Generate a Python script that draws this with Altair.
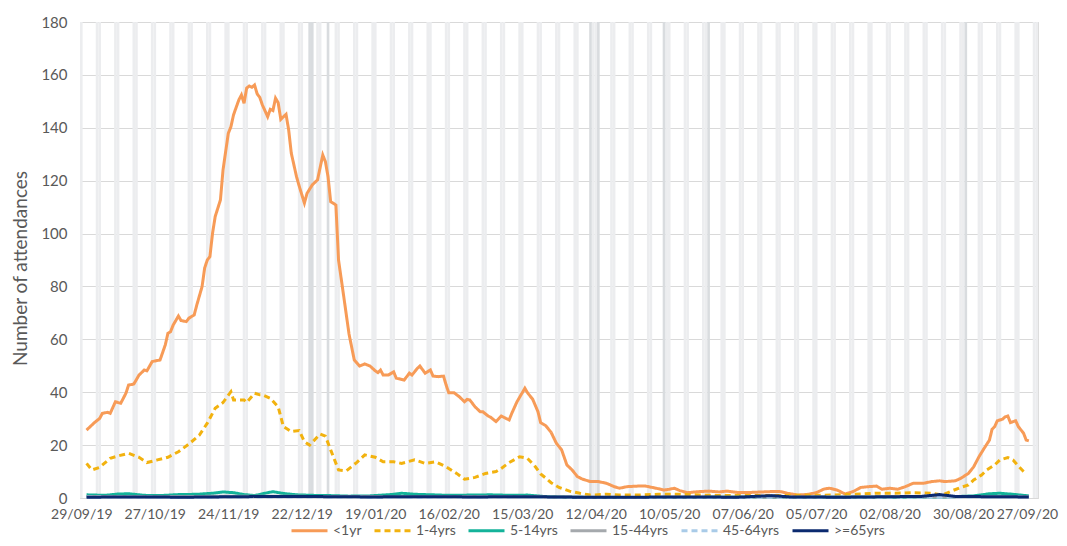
import json
import altair as alt
import pandas as pd

START = "2019-09-29"
series_names = ["<1yr", "1-4yrs", "5-14yrs", "15-44yrs", "45-64yrs", ">=65yrs"]
series_colors = ["#F79B57", "#F2B20F", "#14B39A", "#A5A9AD", "#A9CBE8", "#0B2A6F"]
series_dash = [[1, 0], [6, 4], [1, 0], [1, 0], [6, 4], [1, 0]]

tick_labels = ["29/09/19", "27/10/19", "24/11/19", "22/12/19", "19/01/20", "16/02/20",
               "15/03/20", "12/04/20", "10/05/20", "07/06/20", "05/07/20", "02/08/20",
               "30/08/20", "27/09/20"]
bank_holidays = ["2019-12-25", "2019-12-26", "2020-01-01", "2020-04-10", "2020-04-13",
                 "2020-05-08", "2020-05-25", "2020-08-31"]

# day offsets from START and values
lt1_days = [2, 5, 7, 8, 10, 11, 13, 15, 17, 18, 20, 22, 24, 25, 27, 30, 32, 33, 34, 35, 37, 38, 40, 41, 43, 44,
            46, 47, 48, 49, 50, 51, 53, 54, 56, 57, 58, 60, 61, 62, 63, 64, 65, 66, 67, 68, 69, 71, 72, 73, 74,
            75, 76, 78, 79, 80, 82, 83, 85, 86, 88, 90, 92, 93, 94, 95, 97, 98, 100, 102, 104, 106, 108, 110,
            112, 113, 114, 115, 117, 119, 120, 123, 125, 126, 128, 129, 131, 133, 134, 136, 138, 139, 140, 142,
            144, 146, 147, 148, 150, 152, 153, 155, 156, 158, 160, 161, 163, 164, 166, 169, 170, 172, 174, 175,
            177, 179, 181, 183, 185, 187, 189, 191, 194, 197, 200, 203, 205, 208, 212, 215, 219, 222, 224, 226,
            228, 231, 235, 239, 243, 246, 250, 255, 262, 266, 269, 273, 277, 280, 283, 285, 288, 291, 294, 297,
            300, 303, 305, 308, 311, 314, 317, 321, 324, 327, 329, 333, 335, 338, 340, 342, 344, 346, 347, 348,
            349, 351, 352, 353, 354, 356, 357, 359, 360, 361]
lt1_vals = [25.7, 28.5, 30.1, 32.0, 32.4, 32.0, 36.4, 35.8, 39.6, 42.7, 43.1, 46.5, 48.4, 48.1, 51.6, 52.2, 57.9,
            62.3, 62.9, 65.4, 68.8, 67.1, 66.7, 68.0, 69.2, 73.0, 79.9, 87.0, 90.0, 91.3, 100.1, 106.4, 112.7,
            124.1, 137.9, 140.4, 144.9, 150.5, 152.4, 149.3, 155.0, 155.8, 155.3, 156.2, 152.8, 151.5, 148.6,
            144.2, 147.0, 146.5, 151.2, 149.5, 143.2, 145.1, 139.2, 130.4, 121.5, 118.0, 111.5, 115.2, 118.4,
            120.3, 129.7, 127.2, 121.5, 112.1, 110.8, 90.0, 76.1, 62.0, 52.2, 49.9, 50.7, 49.9, 48.1, 47.4, 48.4,
            46.5, 46.5, 47.7, 45.3, 44.6, 47.2, 46.5, 49.0, 49.9, 47.2, 48.4, 46.1, 45.9, 46.1, 42.7, 39.8, 39.8,
            38.3, 36.4, 37.3, 37.1, 34.5, 32.6, 32.6, 31.0, 30.5, 28.9, 31.0, 30.5, 29.5, 32.0, 36.4, 41.5, 39.8,
            37.3, 32.6, 28.5, 27.3, 24.8, 20.7, 18.2, 12.5, 10.6, 8.1, 7.1, 6.2, 6.2, 5.6, 4.3, 3.7, 4.3, 4.5,
            4.5, 3.7, 3.0, 3.3, 3.7, 2.8, 2.0, 2.4, 2.6, 2.3, 2.6, 2.1, 2.1, 2.4, 2.5, 1.8, 1.1, 1.4, 2.0, 3.4,
            3.7, 3.0, 1.5, 2.4, 4.0, 4.3, 4.5, 3.3, 3.7, 3.3, 4.3, 5.6, 5.6, 6.2, 6.5, 6.2, 6.5, 7.4, 9.3, 11.8,
            15.6, 18.8, 21.9, 26.0, 27.0, 29.2, 29.8, 30.7, 31.0, 28.5, 29.2, 27.0, 24.5, 21.9, 21.6]

y14_days = [2, 4, 7, 11, 14, 18, 22, 25, 29, 33, 37, 41, 45, 48, 51, 54, 57, 58, 62, 63, 66, 68, 69, 72, 75, 77,
            80, 83, 85, 87, 91, 93, 95, 98, 101, 105, 108, 112, 115, 119, 122, 127, 131, 135, 139, 143, 146, 150,
            154, 158, 160, 163, 167, 170, 173, 175, 177, 179, 182, 186, 190, 194, 200, 205, 212, 220, 228, 240,
            255, 270, 286, 297, 303, 310, 317, 324, 328, 331, 335, 338, 340, 343, 345, 348, 350, 353, 355, 357,
            359, 360]
y14_vals = [13.1, 10.6, 11.6, 15.0, 15.9, 16.9, 15.4, 13.4, 14.4, 15.4, 17.5, 20.4, 23.8, 28.3, 33.9, 36.1, 40.2,
            37.1, 37.1, 36.1, 39.6, 39.0, 39.0, 37.7, 34.5, 27.0, 25.1, 25.5, 21.3, 20.0, 24.2, 23.4, 18.2, 10.6,
            10.3, 13.5, 16.3, 15.4, 13.7, 13.7, 13.1, 14.4, 13.1, 13.7, 11.8, 9.3, 7.1, 7.8, 9.3, 10.0, 11.2,
            13.4, 15.6, 15.0, 11.8, 9.1, 7.5, 5.8, 4.0, 2.6, 1.8, 1.1, 1.4, 1.1, 1.1, 1.4, 1.4, 1.0, 0.9, 1.0, 1.1,
            1.5, 1.8, 1.8, 2.0, 1.8, 1.1, 2.4, 4.0, 4.9, 6.8, 8.7, 10.6, 12.5, 14.4, 15.3, 14.4, 12.1, 10.0, 9.0]

y514_days = [2, 9, 14, 18, 24, 30, 37, 44, 50, 54, 58, 62, 66, 70, 73, 77, 82, 88, 95, 102, 110, 118, 122, 127,
             134, 140, 148, 156, 164, 170, 176, 185, 195, 210, 230, 250, 270, 290, 310, 330, 340, 346, 350, 355, 361]
y514_vals = [1.2, 1.0, 1.5, 1.6, 1.0, 0.9, 1.3, 1.4, 1.8, 2.3, 2.0, 1.3, 0.9, 1.8, 2.4, 1.7, 1.2, 1.0, 0.9, 0.7,
             0.8, 1.3, 1.8, 1.4, 1.2, 1.0, 1.1, 1.2, 1.0, 1.1, 0.6, 0.3, 0.2, 0.2, 0.2, 0.3, 0.2, 0.3, 0.3, 0.4,
             0.8, 1.6, 1.8, 1.4, 0.8]

y1544_days = [2, 30, 60, 90, 120, 150, 180, 210, 240, 270, 300, 330, 361]
y1544_vals = [0.6, 0.5, 0.7, 0.6, 0.5, 0.6, 0.4, 0.2, 0.3, 0.3, 0.4, 0.5, 0.5]

y4564_days = [2, 40, 80, 120, 160, 200, 240, 280, 320, 361]
y4564_vals = [0.4, 0.3, 0.4, 0.3, 0.4, 0.2, 0.2, 0.3, 0.3, 0.4]

y65_days = [2, 20, 40, 60, 80, 95, 110, 130, 150, 170, 190, 210, 230, 250, 263, 270, 290, 310, 320, 327, 333,
            345, 361]
y65_vals = [0.3, 0.4, 0.3, 0.5, 0.6, 0.5, 0.4, 0.5, 0.4, 0.5, 0.3, 0.3, 0.4, 0.3, 0.9, 0.4, 0.3, 0.5, 0.6, 1.3,
            0.6, 0.5, 0.4]

all_days = [lt1_days, y14_days, y514_days, y1544_days, y4564_days, y65_days]
all_vals = [lt1_vals, y14_vals, y514_vals, y1544_vals, y4564_vals, y65_vals]

rows = []
for name, ds, vs in zip(series_names, all_days, all_vals):
    for d, v in zip(ds, vs):
        rows.append({"series": name, "day": d, "value": v})
lines_df = pd.DataFrame(rows)

start = pd.Timestamp(START)
wk, hol = [], []
hol_set = set(pd.to_datetime(bank_holidays))
for dt in pd.date_range("2019-09-28", "2020-09-28"):
    d = (dt - start).days
    rec = {"d0": d - 0.5, "d1": d + 0.5, "top": 180, "bot": 0}
    if dt in hol_set:
        hol.append(rec)
    elif dt.weekday() >= 5:
        wk.append(rec)
wk_df = pd.DataFrame(wk)
hol_df = pd.DataFrame(hol)

FONT = "Lato"
GREY = "#595959"
LAST_TICK = 364
xscale = alt.Scale(domain=[-0.5, 364.5], nice=False, zero=False)
yscale = alt.Scale(domain=[0, 180], nice=False)

label_expr = json.dumps(tick_labels) + "[round(datum.value / 28)]"
xaxis = alt.Axis(values=list(range(0, 365, 28)), labelExpr=label_expr, title=None, grid=False, ticks=False,
                 domain=True, domainColor="#D9D9D9", labelFont=FONT, labelFontSize=14, labelColor=GREY,
                 labelPadding=9, labelOverlap=False, labelBound=False, labelFlush=False,
                 labelAlign={"condition": {"test": f"datum.value === {LAST_TICK}", "value": "right"},
                             "value": "center"},
                 labelOffset={"condition": {"test": f"datum.value === {LAST_TICK}", "value": 21}, "value": 0})
yaxis = alt.Axis(values=list(range(0, 181, 20)), title="Number of attendances", grid=True, gridColor="#D9D9D9",
                 ticks=False, domain=False, labelFont=FONT, labelFontSize=15, labelColor=GREY, labelPadding=13,
                 titleFont=FONT, titleFontSize=19, titleColor=GREY, titleFontWeight="normal",
                 titleX=-60, titleY=246, titleAngle=-90, titleBaseline="middle", titleAlign="center")

def bars(df, col):
    return alt.Chart(df).mark_rect(color=col, clip=True).encode(
        x=alt.X("d0:Q", scale=xscale, axis=xaxis),
        x2="d1:Q",
        y=alt.Y("top:Q", scale=yscale, axis=yaxis),
        y2="bot:Q",
    )

color_scale = alt.Scale(domain=series_names, range=series_colors)
dash_scale = alt.Scale(domain=series_names, range=series_dash)
leg = alt.Legend(title=None, orient="none", legendX=210, legendY=489, direction="horizontal",
                 symbolType="stroke", symbolSize=1296, symbolStrokeWidth=3, labelFont=FONT, labelFontSize=14,
                 labelColor=GREY, columnPadding=6, labelOffset=4)

line_layers = []
for name in series_names:
    line_layers.append(
        alt.Chart(lines_df).transform_filter(alt.datum.series == name).mark_line(strokeWidth=3).encode(
            x=alt.X("day:Q", scale=xscale, axis=xaxis),
            y=alt.Y("value:Q", scale=yscale, axis=yaxis),
            color=alt.Color("series:N", scale=color_scale, legend=leg),
            strokeDash=alt.StrokeDash("series:N", scale=dash_scale, legend=leg),
            order=alt.Order("day:Q"),
        )
    )

chart = alt.layer(bars(wk_df, "#ECEDEF"), bars(hol_df, "#D9DCDF"), *line_layers).properties(
    width=958, height=476,
    autosize=alt.AutoSizeParams(type="none"),
    padding={"left": 72, "top": 14, "right": 21, "bottom": 40},
).configure_view(stroke=None).configure(background="white")

chart.save("out.html", embed_options={"renderer": "svg", "actions": False})
